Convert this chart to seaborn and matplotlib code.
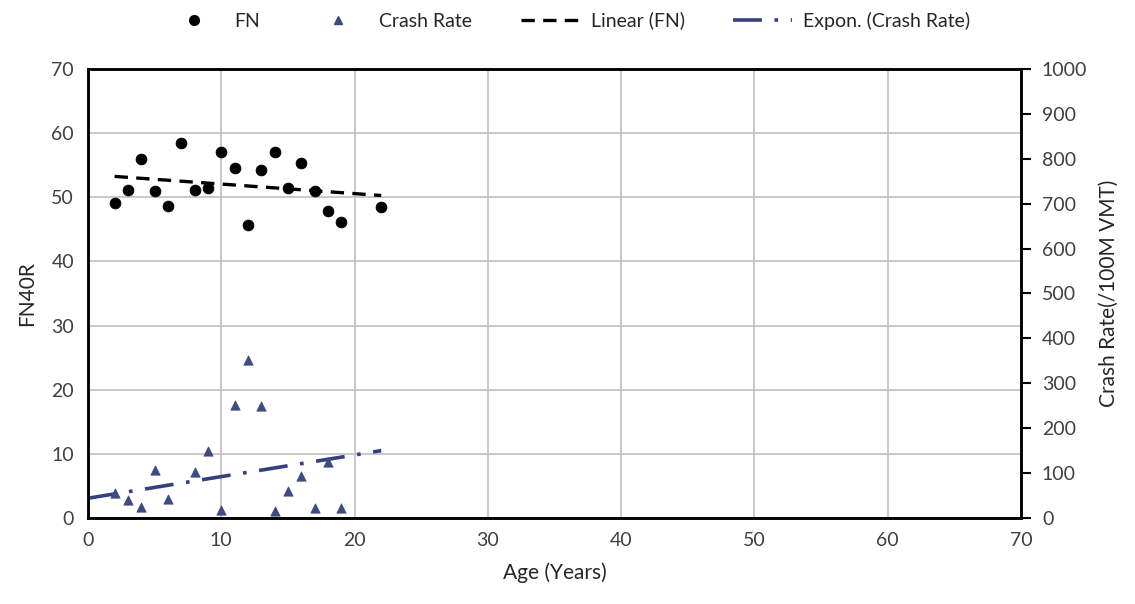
import numpy as np
import pandas as pd
import seaborn as sns
from matplotlib import pyplot as plt
from matplotlib.lines import Line2D

# Data
fn_age = [2, 3, 4, 5, 6, 7, 8, 9, 10, 11, 12, 13, 14, 15, 16, 17, 18, 19, 22]
fn_value = [49.1, 51.2, 55.9, 51.0, 48.6, 58.5, 51.2, 51.5, 57.1, 54.5, 45.6,
            54.3, 57.1, 51.4, 55.4, 51.0, 47.9, 46.2, 48.5]

crash_age = [2, 3, 4, 5, 6, 8, 9, 10, 11, 12, 13, 14, 15, 16, 17, 18, 19]
crash_rate = [55, 40, 25, 107, 42, 103, 150, 18, 251, 352, 249, 15, 59, 94,
              22, 125, 22]

# Excel exponential trendline, ends
exp_trend_age = [0, 22]
exp_trend_rate = [44, 150]

fn_df = pd.DataFrame({'age': fn_age, 'fn': fn_value})
crash_df = pd.DataFrame({'age': crash_age, 'rate': crash_rate})
trend_df = pd.DataFrame({'age': exp_trend_age, 'rate': exp_trend_rate})

sns.set_style('white')
plt.rcParams['font.family'] = ['Lato', 'DejaVu Sans']
plt.rcParams['font.size'] = 14

fig = plt.figure(figsize=(11.35, 6.04), dpi=100)
ax = fig.add_axes([0.0775, 0.1424, 0.8221, 0.7434])
ax2 = ax.twinx()

tri_color = '#3E4A82'
exp_color = '#34407E'
exp_ls = (0, (8, 3.5, 1, 3.5))

sns.scatterplot(data=fn_df, x='age', y='fn', ax=ax, color='black', s=60,
                marker='o', edgecolor='black', zorder=3)
sns.scatterplot(data=crash_df, x='age', y='rate', ax=ax2, color=tri_color,
                s=45, marker='^', edgecolor=tri_color, zorder=3)

# Linear trend for FN
slope, intercept = np.polyfit(fn_df['age'], fn_df['fn'], 1)
xl = np.array([2, 22])
ax.plot(xl, slope * xl + intercept, color='black', ls=(0, (4, 2.5)), lw=2.4,
        zorder=2)

# Exponential trend for crash rate
sns.lineplot(data=trend_df, x='age', y='rate', ax=ax2, color=exp_color,
             lw=2.6, zorder=2).lines[-1].set_linestyle(exp_ls)

ax.set_xlim(0, 70)
ax.set_ylim(0, 70)
ax2.set_ylim(0, 1000)
ax.set_xticks(range(0, 71, 10))
ax.set_yticks(range(0, 71, 10))
ax2.set_yticks(range(0, 1001, 100))
ax.grid(True, color='#BFBFBF', lw=1.2)
ax.set_axisbelow(True)

ax.set_xlabel('Age (Years)', fontsize=15, labelpad=10)
ax.set_ylabel('FN40R', fontsize=15, labelpad=10)
ax2.set_ylabel('Crash Rate(/100M VMT)', fontsize=15, labelpad=8)

ax.tick_params(axis='both', length=0, pad=10, colors='#404040', labelsize=14)
ax2.tick_params(axis='y', length=7, width=1.5, direction='out', pad=8,
                colors='black', labelcolor='#404040', labelsize=14)
for a in (ax, ax2):
    for sp in a.spines.values():
        sp.set_color('black')
        sp.set_linewidth(1.8)
        sp.set_visible(True)

handles = [
    Line2D([], [], ls='none', marker='o', color='black', markersize=7),
    Line2D([], [], ls='none', marker='^', color=tri_color, markersize=6),
    Line2D([], [], color='black', ls=(0, (4, 2.5)), lw=2.4),
    Line2D([], [], color=exp_color, ls=exp_ls, lw=2.6),
]
labels = ['FN', 'Crash Rate', 'Linear (FN)', 'Expon. (Crash Rate)']
fig.legend(handles, labels, loc='upper center', bbox_to_anchor=(0.5, 1.01),
           ncol=4, frameon=False, fontsize=14, handlelength=3,
           columnspacing=2.5, handletextpad=0.6)

fig.savefig('out.png', dpi=100)
